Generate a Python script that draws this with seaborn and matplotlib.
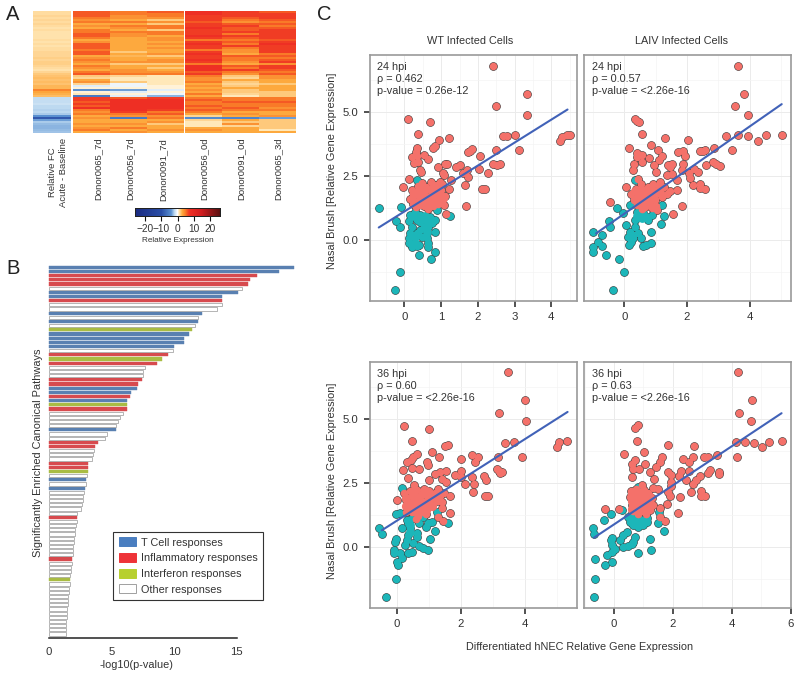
"""
Four panel figure: heatmap (A), enriched pathways (B), scatter grid (C).
"""
import numpy as np
import pandas as pd
import matplotlib
matplotlib.use('Agg')
import matplotlib.pyplot as plt
from matplotlib.colors import LinearSegmentedColormap
from matplotlib.patches import Patch
from matplotlib.ticker import MultipleLocator
import seaborn as sns

# --- panel A values, one list per column, top row first
side_fc = [1.3, 1.3, 1.5, 1.4, 1.6, 1.3, 1.5, 1.4, 1.2, 1.3, 1.2, 1.1, 1.2, 1.1, 1.3, 1.2, 1.3, 1.2, 1.4, 1.3,
           1.5, 1.6, 1.5, 1.7, 1.6, 1.8, 1.7, 1.6, 1.3, 1.2, 1.5, 1.9, 2.2, 2.4, 2.2, 2.4, 2.2, 2.5, 2.6, 4.6,
           3.2, 2.8, 2.4, -1.8, -1.8, -1.7, -1.6, -1.9, -2.0, -2.2, -2.0, -2.4, -4.0, -9.0, -3.6, -2.4, -2.8, -3.0, -3.0, -2.8, -2.6]
donor65_7d = [6, 6, 6, 5, 4, 5, 3, 4, 3, 5, 5, 6, 6, 5, 3, 4, 6, 6, 6, 5,
              6, 6, 3, 4, 5, 4, 3, 5, 4, 3, 5, 6, 2, 1.5, 3, 4, 1.5, -1, 0.5, -4,
              0.5, 1, -6, 7, 7, 6, 7, 6, 8, 5, 4, 5, 3, 4, 3, 3, 4, 3, 4, 5, 3]
donor56_7d = [5, 5, 4, 4, 3, 5, 3, 5, 4, 3, 5, 4, 4, 3, 3, 3, 3, 3, 3, 3,
              2, 3, 2.5, 3, 3, 4, 2, 3, 3, 4, 4, 5, 1.5, 1, 1, 2, -0.5, -0.5, 0.5, -3.5,
              -1, 0.5, -1, 6, 8, 8, 8, 8, 8, 8, 7, 5, 4, -6, 3, 3, 4, 3, 5, 3, 4]
donor91_7d = [6, 5, 5, 4, 2, 4, 2, 5, 5, 2, 5, 5, 3, 4, 4, 3, 4, 3, 4, 3,
              3, 4, 2, 3, 4, 4, 2, 3, 2, 3, 4, 5, 1, 1, 1, 1, 1, 0.5, 0.5, -1,
              0.5, -0.5, -3, 7, 8, 8, 8, 8, 8, 7, 5, 6, 4, 5, 3, 4, 2, 3, 3, 4, 3]
donor56_0d = [8, 8, 7, 7, 7, 6, 7, 7, 8, 7, 7, 7, 8, 7, 5, 7, 8, 7, 7, 5,
              7, 8, 7, 7, 8, 7, 5, 8, 8, 8, 6, 7, 5, 4, 4, 5, 3, 4, 3, 4,
              3, 5, 3, 5, 6, 5, 5, 6, 5, 6, 5, 3, 1.5, -4.5, 1.5, 1, 1, 1, 3, 4, 3]
donor91_0d = [7, 7, 7, 6, 5, 4, 6, 7, 6, 6, 7, 5, 7, 6, 5, 6, 5, 7, 5, 4,
              4, 3, 6, 5, 5, 4, 3, 6, 5, 7, 5, 4, 2, 1.5, 3, 2, 1.5, 2, 3, 2,
              2, 1.5, 1, 5, 5, 6, 5, 5, 6, 5, 3, 4, 3, -5, 3, 2, 4, 1.5, 3, 3, 3]
donor65_3d = [6, 7, 7, 7, 6, 5, 6, 5, 6, 7, 7, 7, 7, 7, 6, 7, 8, 7, 7, 7,
              7, 5, 6, 5, 6, 7, 4, 7, 7, 6, 5, 6, 4, 4, 3, 3, 2, 3, 3, 3,
              2, 2, 2, 5, 5, 6, 5, 5, 4, 5, 3, 3, 4, -3.5, 2, 2, 2, 2, 2, 1, 3]
donors_7d = ['Donor0065_7d', 'Donor0056_7d', 'Donor0091_7d']
donors_0d = ['Donor0056_0d', 'Donor0091_0d', 'Donor0065_3d']

# --- panel B values
pathway_p = [19.6, 18.4, 16.6, 16.1, 15.9, 15.4, 15.1, 13.8, 13.8, 13.8, 13.4, 12.2, 11.9, 11.9, 11.7, 11.4, 11.2, 10.8,
             10.75, 10.0, 9.9, 9.5, 9.0, 8.6, 7.65, 7.55, 7.5, 7.45, 7.1, 7.0, 6.55, 6.5, 6.25, 6.2, 6.2, 5.9, 5.65, 5.5, 5.35,
             5.35, 4.6, 4.5, 3.95, 3.7, 3.6, 3.55, 3.4, 3.15, 3.15, 3.12, 3.0, 2.95, 2.95, 2.9, 2.82, 2.75, 2.7, 2.62, 2.55, 2.25,
             2.2, 2.2, 2.15, 2.1, 2.08, 2.02, 1.98, 1.95, 1.9, 1.88, 1.85, 1.82, 1.78, 1.75, 1.7, 1.68, 1.65, 1.62, 1.58, 1.52,
             1.5, 1.5, 1.45, 1.42, 1.4, 1.38, 1.36, 1.35, 1.32]
pathway_kind = list('BBRRRWBBRWWBWBWGBBBBWRGRWWWRRBBRBGRWWWWBWWRRWWWRRGWBWBWWWWWWRWWWWWWWWWRWWWWGWWWWWWWWWWWWW')
pathway_kind = pathway_kind + ['W'] * (len(pathway_p) - len(pathway_kind))
kind_names = {'B': 'T Cell responses', 'R': 'Inflammatory responses', 'G': 'Interferon responses', 'W': 'Other responses'}
kind_colors = {'T Cell responses': '#4a7ec0', 'Inflammatory responses': '#ee3338',
               'Interferon responses': '#b7d02f', 'Other responses': '#ffffff'}

# --- panel C values, (x, y) pairs
wt24_red = [(2.40, 6.81), (3.35, 5.72), (2.50, 5.23), (3.35, 4.90), (0.10, 4.73), (0.70, 4.61), (0.37, 4.15), (0.93, 3.91), (1.22, 3.97),
            (2.67, 4.05), (2.80, 4.06), (3.02, 4.09), (4.24, 3.88), (4.29, 4.04), (4.42, 4.11), (4.51, 4.11), (3.11, 3.52), (2.50, 3.52),
            (0.79, 3.58), (0.82, 3.68), (0.34, 3.61), (0.32, 3.45), (0.20, 3.23), (0.34, 3.28), (0.26, 3.02), (0.36, 3.06), (0.52, 3.32),
            (0.63, 3.15), (0.90, 2.85), (1.11, 2.97), (1.17, 2.96), (0.44, 2.64), (0.41, 2.73), (1.04, 2.60), (1.08, 2.53), (0.11, 2.40),
            (-0.05, 2.08), (1.72, 3.44), (1.83, 3.55), (1.78, 3.49), (2.07, 3.29), (1.41, 2.84), (1.50, 2.93), (2.03, 2.77), (2.40, 2.99),
            (2.51, 2.93), (2.59, 2.97), (2.28, 2.63), (1.71, 2.73), (1.74, 2.46), (1.65, 2.15), (1.60, 2.63), (2.12, 1.99), (2.19, 2.00),
            (1.68, 1.33), (1.27, 2.34), (1.20, 1.98), (1.13, 1.03),
            (0.16, 1.62), (0.22, 1.42), (0.28, 1.85), (0.31, 1.28), (0.36, 2.10), (0.42, 1.55), (0.45, 1.92), (0.49, 2.24), (0.53, 1.34),
            (0.57, 1.72), (0.60, 2.06), (0.64, 1.20), (0.67, 1.50), (0.71, 2.28), (0.74, 1.88), (0.78, 1.33), (0.81, 1.62), (0.85, 2.15),
            (0.89, 1.78), (0.92, 1.42), (0.96, 2.27), (1.00, 1.95), (1.03, 1.60), (1.07, 1.38), (1.11, 1.72), (0.24, 1.72), (0.33, 1.50),
            (0.55, 2.00), (0.70, 1.70), (0.95, 1.60), (0.20, 1.95), (0.40, 1.78), (0.62, 1.40), (1.01, 2.20), (0.83, 1.98), (0.50, 1.62)]
wt24_teal = [(-0.70, 1.26), (-0.10, 1.30), (-0.24, 0.74), (-0.11, 0.52), (-0.12, -1.24), (-0.25, -1.95), (0.40, -0.59), (0.73, -0.73),
             (0.82, -0.47), (0.83, 0.33), (1.24, 0.94), (0.35, 2.33), (0.59, 1.73), (0.88, 1.37), (0.11, 0.07), (0.13, -0.13), (0.20, -0.26),
             (0.34, -0.23), (0.40, -0.20), (0.27, 0.13), (0.34, 0.26), (0.43, 0.39), (0.15, 0.26), (0.61, 0.07), (0.65, -0.13), (0.63, -0.29),
             (0.61, 0.26), (0.65, 0.52), (0.74, 0.65), (0.83, 0.78), (0.43, 0.72), (0.34, 0.78), (0.11, 0.74), (0.15, 0.98), (0.29, 1.11),
             (0.43, 0.98), (0.56, 0.78), (0.70, 0.91), (0.88, 1.17), (0.52, 0.52), (0.20, 0.52), (0.47, 0.13)]
wt24_red_core = [(0.25, 1.50), (0.25, 1.85), (0.42, 1.40), (0.42, 1.70), (0.42, 2.00), (0.60, 1.40), (0.60, 1.70), (0.60, 2.00),
                 (0.78, 1.45), (0.78, 1.75), (0.78, 2.05), (0.95, 1.50), (0.95, 1.80), (0.95, 2.10), (1.05, 1.65)]
wt24_teal_core = [(0.25, 0.95), (0.40, 0.95), (0.55, 0.95), (0.30, 0.10), (0.62, 0.30), (0.30, -0.10), (0.68, 0.70)]
wt24_line_x = [-0.70, 4.44]
wt24_line_y = [0.49, 5.10]

laiv24_red = [(3.63, 6.81), (3.82, 5.72), (3.53, 5.23), (3.94, 4.90), (0.34, 4.73), (0.42, 4.66), (0.48, 4.61), (0.55, 4.15), (1.31, 3.97),
              (2.03, 3.91), (3.24, 4.06), (3.64, 4.10), (3.95, 4.05), (4.25, 3.88), (4.53, 4.09), (5.03, 4.11), (3.45, 3.52), (2.86, 3.61),
              (0.16, 3.61), (0.84, 3.70), (1.07, 3.52), (2.51, 3.49), (2.58, 3.52), (2.43, 3.46), (1.72, 3.44), (1.88, 3.49), (1.93, 3.29),
              (0.42, 3.41), (0.39, 3.23), (0.55, 3.32), (0.79, 3.20), (1.21, 3.28), (1.11, 3.13), (0.31, 2.99), (0.55, 3.06), (0.94, 2.94),
              (1.01, 2.64), (0.29, 2.73), (1.40, 2.94), (1.51, 2.99), (1.45, 2.84), (1.88, 2.96), (2.62, 2.92), (2.83, 3.05), (2.94, 2.99),
              (3.06, 2.90), (2.23, 2.77), (2.36, 2.64), (2.06, 2.60), (2.11, 2.43), (2.20, 2.15), (2.43, 2.19), (2.43, 2.02), (2.58, 1.99),
              (1.69, 1.95), (1.83, 2.73), (1.35, 2.54), (1.51, 2.58), (1.67, 2.34), (0.07, 2.07), (0.45, 2.37), (-0.46, 1.50), (1.84, 1.33),
              (1.56, 1.03), (1.03, 1.17),
              (0.20, 1.78), (0.30, 1.55), (0.38, 1.98), (0.42, 1.38), (0.48, 1.72), (0.52, 2.20), (0.58, 1.50), (0.62, 1.88), (0.66, 1.28),
              (0.72, 1.62), (0.76, 2.08), (0.82, 1.42), (0.86, 1.80), (0.92, 2.18), (0.98, 1.55), (1.02, 1.32), (1.08, 1.92), (1.14, 2.28),
              (1.20, 1.70), (1.28, 2.08), (1.36, 1.80), (1.46, 1.92), (0.56, 1.20), (0.68, 1.45), (0.80, 1.65), (0.50, 1.95), (0.90, 1.25)]
laiv24_teal = [(0.35, 2.33), (0.92, 1.98), (1.19, 1.38), (0.18, 1.37), (-0.24, 1.26), (-0.04, 1.04), (-0.48, 0.74), (-0.46, 0.52), (1.26, 0.94),
               (1.16, 0.63), (0.07, 0.59), (0.85, 0.33), (-0.99, 0.33), (-0.70, 0.20), (-0.83, -0.07), (-0.71, -0.23), (-1.01, -0.29), (-1.00, -0.46),
               (-0.59, -0.59), (-0.17, -0.73), (-0.01, -1.24), (-0.35, -1.95), (0.85, -0.13), (0.60, -0.23), (0.69, -0.20), (0.16, -0.21), (0.23, -0.07),
               (0.13, 0.13), (0.18, 0.33), (0.29, 0.20), (0.45, 0.26), (0.52, 0.07), (0.34, 0.52), (0.34, 0.78), (0.45, 0.98), (0.60, 1.04), (0.76, 0.78),
               (0.87, 0.98), (0.71, 0.91), (0.39, 1.11), (0.29, 0.07)]
laiv24_red_core = [(0.35, 1.60), (0.35, 1.90), (0.55, 1.35), (0.55, 1.65), (0.55, 1.95), (0.75, 1.40), (0.75, 1.70), (0.75, 2.00),
                   (0.95, 1.60), (0.95, 1.90), (1.15, 1.85), (1.15, 2.10)]
laiv24_teal_core = [(0.40, 0.95), (0.55, 0.85), (0.70, 0.90), (0.55, 1.05)]
laiv24_line_x = [-0.90, 5.02]
laiv24_line_y = [0.26, 5.31]

wt36_red = [(3.49, 6.82), (4.01, 5.72), (3.21, 5.23), (4.04, 4.90), (0.24, 4.73), (1.01, 4.61), (0.49, 4.15), (1.11, 3.71), (1.52, 3.93),
            (1.61, 3.97), (1.32, 3.53), (3.39, 4.06), (3.65, 4.10), (5.00, 3.89), (5.06, 4.10), (5.33, 4.13), (3.92, 3.53), (3.16, 3.52),
            (2.36, 3.59), (2.55, 3.50), (2.43, 3.32), (2.00, 3.42), (0.62, 3.62), (0.52, 3.53), (0.33, 3.33), (0.44, 3.40), (0.47, 3.10),
            (0.18, 2.99), (0.70, 3.03), (0.94, 3.31), (0.99, 3.18), (0.35, 2.71), (1.02, 2.62), (1.20, 2.86), (1.35, 2.94), (1.54, 2.97),
            (1.41, 2.66), (1.54, 2.53), (1.82, 2.79), (2.00, 2.97), (2.00, 2.75), (2.14, 2.45), (2.36, 2.75), (2.42, 2.46), (2.38, 2.16),
            (2.74, 2.77), (2.78, 2.63), (2.76, 1.98), (2.85, 2.00), (3.13, 3.03), (3.28, 2.93), (0.54, 2.41), (0.00, 1.82), (1.67, 2.00),
            (1.67, 1.34), (1.30, 1.16), (1.44, 1.02), (1.41, 1.51), (1.30, 2.27), (3.20, 2.97), (3.24, 2.90),
            (0.22, 2.10), (0.28, 1.85), (0.34, 1.55), (0.40, 2.18), (0.44, 1.72), (0.48, 1.35), (0.54, 1.98), (0.58, 1.55), (0.62, 2.22),
            (0.66, 1.20), (0.70, 1.80), (0.76, 1.45), (0.80, 2.05), (0.84, 2.28), (0.88, 1.65), (0.92, 1.30), (0.98, 1.92), (1.02, 2.20),
            (1.08, 1.62), (1.14, 1.90), (1.20, 2.10), (1.26, 1.80), (1.34, 2.00), (1.40, 1.75), (1.46, 2.10), (0.30, 1.35), (0.60, 1.10)]
wt36_teal = [(-0.57, 0.74), (-0.47, 0.51), (0.15, 2.32), (-0.02, 1.28), (0.10, 1.32), (1.25, 1.38), (1.35, 2.03), (1.61, 0.94), (1.20, 0.63),
             (1.04, 0.33), (0.16, 0.74), (-0.02, 0.33), (-0.05, 0.21), (-0.08, -0.12), (-0.08, -0.25), (0.10, -0.25), (0.16, -0.44), (0.02, -0.57),
             (0.05, -0.72), (-0.01, -1.24), (-0.33, -1.95), (0.36, -0.25), (0.47, -0.21), (0.97, -0.12), (0.83, -0.05), (0.68, 0.04), (0.52, 0.14),
             (0.26, 0.08), (0.33, 0.27), (0.62, 0.40), (0.62, 0.53), (0.36, 0.47), (0.42, 0.73), (0.36, 0.92), (0.47, 1.12), (0.68, 0.92), (0.92, 0.76),
             (0.99, 0.92), (1.09, 0.96), (0.83, 1.18), (0.31, 1.05)]
wt36_red_core = [(0.30, 1.60), (0.30, 1.90), (0.50, 1.40), (0.50, 1.70), (0.50, 2.00), (0.70, 1.35), (0.70, 1.65), (0.70, 1.95),
                 (0.90, 1.45), (0.90, 1.75), (0.90, 2.05), (1.10, 1.60), (1.10, 1.90), (1.30, 1.85), (0.50, 2.20), (0.90, 2.20)]
wt36_teal_core = [(0.40, 0.85), (0.40, 0.60)]
wt36_line_x = [-0.47, 5.34]
wt36_line_y = [0.65, 5.27]

laiv36_red = [(4.20, 6.82), (4.69, 5.72), (4.25, 5.23), (4.64, 4.90), (0.81, 4.77), (0.71, 4.64), (0.79, 4.15), (1.82, 3.97), (2.71, 3.93),
              (4.14, 4.08), (4.46, 4.10), (4.75, 4.06), (5.03, 3.89), (5.25, 4.10), (5.69, 4.13), (4.19, 3.53), (3.50, 3.59), (3.05, 3.50),
              (3.20, 3.53), (0.34, 3.62), (1.01, 3.71), (2.35, 3.44), (2.69, 3.53), (2.55, 3.31), (1.62, 3.53), (1.56, 3.33), (1.42, 3.13),
              (1.05, 3.23), (0.71, 3.40), (0.60, 3.23), (0.66, 3.05), (0.86, 3.05), (1.22, 2.94), (0.61, 2.72), (1.36, 2.66), (1.84, 2.94),
              (2.29, 2.97), (2.55, 2.97), (1.95, 2.81), (2.21, 2.77), (2.43, 2.62), (2.92, 2.77), (2.80, 2.62), (2.69, 2.46), (3.25, 2.99),
              (3.20, 2.90), (3.56, 2.94), (3.56, 2.86), (2.63, 2.15), (2.94, 2.20), (2.97, 2.00), (3.08, 2.00), (2.24, 1.94), (1.95, 2.53),
              (1.95, 2.36), (1.84, 2.16), (1.90, 1.97), (1.81, 1.68), (1.33, 2.29), (1.50, 2.27), (-0.31, 1.50), (0.18, 1.50), (2.18, 1.33),
              (1.73, 1.02), (1.56, 1.51), (1.56, 1.18), (0.94, 2.40),
              (0.54, 1.95), (0.58, 2.20), (0.60, 1.65), (0.64, 1.40), (0.68, 2.05), (0.72, 1.80), (0.74, 2.25), (0.78, 1.55), (0.82, 1.30),
              (0.84, 1.95), (0.88, 2.15), (0.90, 1.68), (0.94, 1.42), (0.98, 1.88), (1.02, 2.22), (1.05, 1.60), (1.08, 1.30), (1.12, 1.95),
              (1.16, 2.12), (1.20, 1.72), (1.24, 1.45), (1.28, 1.92), (1.32, 1.65), (0.70, 1.50), (1.00, 1.75), (0.76, 2.00)]
laiv36_teal = [(0.81, 2.33), (0.26, 1.46), (-0.11, 1.28), (-0.35, 1.04), (-0.71, 0.74), (-0.69, 0.51), (1.49, 0.94), (1.69, 0.63), (1.21, 0.33),
               (1.25, -0.12), (0.81, -0.22), (-0.64, -0.46), (-0.31, -0.72), (-0.07, -0.57), (-0.64, -1.24), (-0.67, -1.95), (-0.25, -0.31), (-0.08, -0.18),
               (0.03, -0.08), (-0.08, 0.08), (-0.11, 0.27), (-0.08, 0.36), (0.20, 0.27), (0.32, 0.47), (0.43, 0.60), (0.71, 0.40), (0.60, 0.10), (0.49, 0.05),
               (0.32, -0.01), (0.66, 0.21), (1.54, 1.38), (0.54, 0.99), (0.66, 0.86), (0.82, 0.79), (0.99, 0.86), (1.13, 0.99), (1.11, 1.12), (0.60, 1.32),
               (0.77, 1.12), (0.94, 1.05), (0.49, 1.18)]
laiv36_red_core = [(0.62, 1.50), (0.62, 1.80), (0.62, 2.05), (0.82, 1.45), (0.82, 1.75), (0.82, 2.05), (1.02, 1.45), (1.02, 1.75),
                   (1.02, 2.05), (1.20, 1.50), (1.20, 1.80), (1.20, 2.00)]
laiv36_teal_core = [(0.65, 1.05), (0.80, 0.95), (0.95, 0.95), (1.05, 1.05), (0.80, 1.15), (0.70, 0.90)]
laiv36_line_x = [-0.68, 5.69]
laiv36_line_y = [0.36, 5.22]

FIG_W, FIG_H = 800, 679
TEXT_COLOR = '#333333'
RED = '#f4716a'
TEAL = '#1cb6b9'
LINE_BLUE = '#4162b8'


def add_axes_px(fig, left, top, right, bottom):
    """
    Add an axes given its box in pixels from the top left corner.
    """
    return fig.add_axes([left / FIG_W, 1 - bottom / FIG_H, (right - left) / FIG_W, (bottom - top) / FIG_H])


def text_px(fig, x, y, s, **kwargs):
    kwargs.setdefault('color', TEXT_COLOR)
    kwargs.setdefault('ha', 'center')
    kwargs.setdefault('va', 'center')
    fig.text(x / FIG_W, 1 - y / FIG_H, s, **kwargs)


def plot_heat(ax, columns, labels, cmap, tick_pos, cbar_ax=None):
    frame = pd.DataFrame(dict(zip(labels, columns)))
    sns.heatmap(frame, ax=ax, cmap=cmap, vmin=-26.3, vmax=26.3, yticklabels=False,
                cbar=cbar_ax is not None, cbar_ax=cbar_ax,
                cbar_kws={'orientation': 'horizontal'} if cbar_ax is not None else None)
    ax.set_xticks(tick_pos)
    ax.set_xticklabels(labels, rotation=90, va='top', ha='center')
    ax.tick_params(axis='x', length=0, pad=3.5, labelsize=6.8, labelcolor=TEXT_COLOR)
    ax.set_xlabel('')


def plot_pathways(ax):
    frame = pd.DataFrame({'name': [f'p{i}' for i in range(len(pathway_p))],
                          'p': pathway_p,
                          'kind': [kind_names[k] for k in pathway_kind]})
    sns.barplot(data=frame, y='name', x='p', hue='kind', palette=kind_colors, dodge=False, legend=False,
                width=0.76, edgecolor='#a0a0a0', linewidth=0.55, ax=ax)
    ax.set_xlim(0, 15)
    for patch in ax.patches:
        patch.set_clip_on(False)
        if patch.get_facecolor()[:3] != (1.0, 1.0, 1.0):
            patch.set_edgecolor(patch.get_facecolor())
            patch.set_linewidth(0.3)
    ax.set_ylim(len(pathway_p) - 0.04, -0.5)
    ax.set_xticks([0, 5, 10, 15])
    ax.set_yticks([])
    ax.set_xlabel('')
    ax.set_ylabel('')
    sns.despine(ax=ax, left=True)
    ax.spines['bottom'].set_linewidth(1.1)
    ax.spines['bottom'].set_color('#222222')
    ax.tick_params(axis='x', length=4.2, width=1.1, color='#222222', pad=2.5, labelsize=8.2, labelcolor=TEXT_COLOR)
    handles = [Patch(facecolor=c, edgecolor='#a0a0a0' if c == '#ffffff' else c, linewidth=0.7, label=n)
               for n, c in kind_colors.items()]
    legend = ax.legend(handles=handles, loc='lower left', bbox_to_anchor=(0.342, 0.102), fontsize=7.8, frameon=True,
                       fancybox=False, edgecolor='#333333', framealpha=1, borderpad=0.5, labelspacing=0.5,
                       handlelength=1.65, handleheight=0.9, handletextpad=0.42, borderaxespad=0)
    legend.get_frame().set_linewidth(0.8)
    for label in legend.get_texts():
        label.set_color(TEXT_COLOR)


def plot_scatter(ax, red, teal, red_core, teal_core, line_x, line_y, xlim, x_major, notes):
    red = pd.DataFrame(red, columns=['x', 'y'])
    teal = pd.DataFrame(teal, columns=['x', 'y'])
    red_core = pd.DataFrame(red_core, columns=['x', 'y'])
    teal_core = pd.DataFrame(teal_core, columns=['x', 'y'])
    both = pd.concat([red, teal])
    # dark discs below, coloured discs on top: only the outer rim of a clump stays dark
    sns.scatterplot(data=both, x='x', y='y', color='#2b2b2b', s=38, linewidth=0, ax=ax, zorder=3)
    sns.scatterplot(data=teal, x='x', y='y', color=TEAL, s=30, linewidth=0, ax=ax, zorder=4)
    sns.scatterplot(data=teal_core, x='x', y='y', color=TEAL, s=40, linewidth=0, ax=ax, zorder=4)
    sns.scatterplot(data=red, x='x', y='y', color=RED, s=30, linewidth=0, ax=ax, zorder=4)
    sns.scatterplot(data=red_core, x='x', y='y', color=RED, s=44, linewidth=0, ax=ax, zorder=4)
    sns.lineplot(x=line_x, y=line_y, color=LINE_BLUE, linewidth=1.5, ax=ax, zorder=5)
    ax.set_xlim(*xlim)
    ax.set_ylim(-2.37, 7.23)
    ax.set_xlabel('')
    ax.set_ylabel('')
    ax.xaxis.set_major_locator(MultipleLocator(x_major))
    ax.xaxis.set_minor_locator(MultipleLocator(x_major / 2))
    ax.set_yticks([0, 2.5, 5])
    ax.set_yticklabels(['0.0', '2.5', '5.0'])
    ax.yaxis.set_minor_locator(MultipleLocator(1.25))
    ax.grid(which='major', color='#ebebeb', linewidth=0.7)
    ax.grid(which='minor', color='#f4f4f4', linewidth=0.5)
    ax.set_axisbelow(True)
    for spine in ax.spines.values():
        spine.set_color('#9a9a9a')
        spine.set_linewidth(1.2)
    ax.tick_params(which='major', length=4.5, width=1.1, color='#222222', pad=3.5, labelsize=8.2, labelcolor=TEXT_COLOR,
                   bottom=True, left=True)
    ax.tick_params(which='minor', length=0)
    for y, note in zip([0.952, 0.901, 0.852], notes):
        ax.text(0.037, y, note, transform=ax.transAxes, fontsize=7.85, color=TEXT_COLOR, va='center', zorder=6)


sns.set_theme(style='white')
plt.rcParams['font.family'] = ['Liberation Sans', 'DejaVu Sans']

fig = plt.figure(figsize=(FIG_W / 100, FIG_H / 100), dpi=100)

# panel A
heat_cmap = LinearSegmentedColormap.from_list('heat', [
    (0.000, '#1a2a80'), (0.310, '#2a4ea6'), (0.424, '#5a90d0'), (0.462, '#bcd8f0'), (0.500, '#ffffff'),
    (0.519, '#ffe6b4'), (0.557, '#fda93e'), (0.595, '#f97c28'), (0.614, '#f55c24'), (0.633, '#f03e24'),
    (0.652, '#ee2e24'), (0.785, '#d01c20'), (1.000, '#5a1010')])
plot_heat(add_axes_px(fig, 33.3, 11, 70.7, 133), [side_fc], ['Relative FC\nAcute - Baseline'], heat_cmap, [0.66])
plot_heat(add_axes_px(fig, 73, 11, 184, 133), [donor65_7d, donor56_7d, donor91_7d], donors_7d, heat_cmap, [0.68, 1.54, 2.43])
cbar_ax = add_axes_px(fig, 135, 208.3, 220, 215.7)
plot_heat(add_axes_px(fig, 185.3, 11, 296, 133), [donor56_0d, donor91_0d, donor65_3d], donors_0d, heat_cmap,
          [0.5, 1.5, 2.5], cbar_ax=cbar_ax)
cbar_ax.set_xticks([-20, -10, 0, 10, 20])
cbar_ax.set_xticklabels(['\u221220', '\u221210', '0', '10', '20'])
cbar_ax.tick_params(axis='x', length=3.5, width=0.8, color='#111111', pad=2.5, labelsize=7.3, labelcolor=TEXT_COLOR, bottom=True)
for spine in cbar_ax.spines.values():
    spine.set_visible(True)
    spine.set_color('#222222')
    spine.set_linewidth(0.7)
text_px(fig, 177.5, 240, 'Relative Expression', fontsize=5.9)

# panel B
plot_pathways(add_axes_px(fig, 49, 265.2, 236.7, 638))
text_px(fig, 38, 453, 'Significantly Enriched Canonical Pathways', fontsize=7.9, rotation=90)
text_px(fig, 136, 665.5, '-log10(p-value)', fontsize=7.8)

# panel C
ax_wt24 = add_axes_px(fig, 369.5, 55, 576.7, 300.7)
ax_laiv24 = add_axes_px(fig, 584, 55, 791, 300.7)
ax_wt36 = add_axes_px(fig, 369.5, 361.7, 576.7, 607.7)
ax_laiv36 = add_axes_px(fig, 584, 361.7, 791, 607.7)
plot_scatter(ax_wt24, wt24_red, wt24_teal, wt24_red_core, wt24_teal_core, wt24_line_x, wt24_line_y, (-0.952, 4.69), 1,
             ['24 hpi', '\u03c1 = 0.462', 'p-value = 0.26e-12'])
plot_scatter(ax_laiv24, laiv24_red, laiv24_teal, laiv24_red_core, laiv24_teal_core, laiv24_line_x, laiv24_line_y, (-1.284, 5.316), 2,
             ['24 hpi', '\u03c1 = 0.0.57', 'p-value = <2.26e-16'])
plot_scatter(ax_wt36, wt36_red, wt36_teal, wt36_red_core, wt36_teal_core, wt36_line_x, wt36_line_y, (-0.854, 5.625), 2,
             ['36 hpi', '\u03c1 = 0.60', 'p-value = <2.26e-16'])
plot_scatter(ax_laiv36, laiv36_red, laiv36_teal, laiv36_red_core, laiv36_teal_core, laiv36_line_x, laiv36_line_y, (-1.017, 6.01), 2,
             ['36 hpi', '\u03c1 = 0.63', 'p-value = <2.26e-16'])
for ax in [ax_laiv24, ax_laiv36]:
    ax.tick_params(axis='y', which='major', left=False, labelleft=False)

text_px(fig, 470, 41, 'WT Infected Cells', fontsize=7.8)
text_px(fig, 681.5, 41, 'LAIV Infected Cells', fontsize=7.8)
text_px(fig, 332, 171, 'Nasal Brush [Relative Gene Expression]', fontsize=7.9, rotation=90)
text_px(fig, 332, 481, 'Nasal Brush [Relative Gene Expression]', fontsize=7.9, rotation=90)
text_px(fig, 580, 647, 'Differentiated hNEC Relative Gene Expression', fontsize=7.8)

# panel letters
text_px(fig, 13, 15, 'A', fontsize=14.5, color='#222222')
text_px(fig, 13, 269, 'B', fontsize=14.5, color='#222222')
text_px(fig, 324, 15, 'C', fontsize=14.5, color='#222222')

fig.savefig('out.png', dpi=100)
